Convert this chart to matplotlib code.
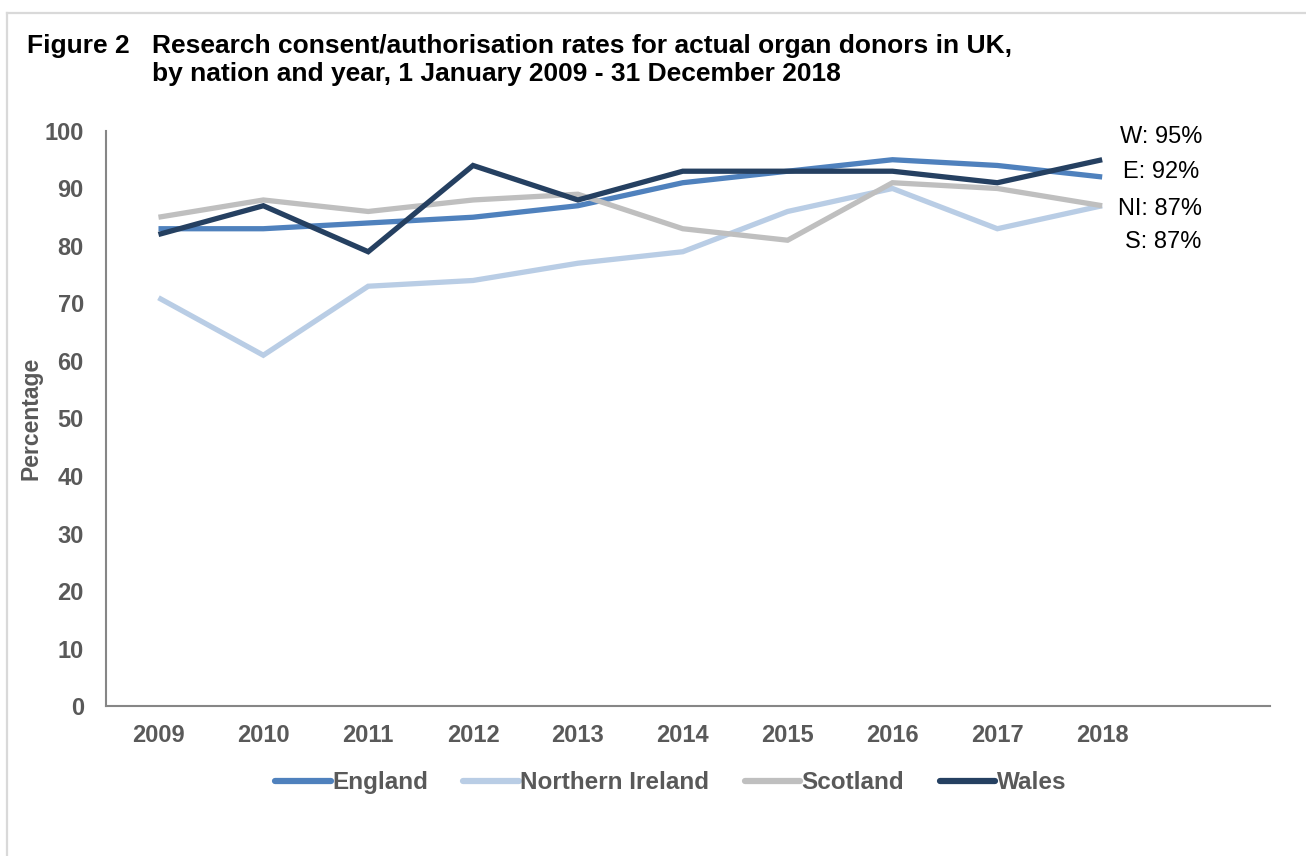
import matplotlib
matplotlib.use("Agg")
import matplotlib.pyplot as plt
from matplotlib.lines import Line2D

plt.rcParams["font.family"] = ["Liberation Sans", "DejaVu Sans"]

# --- data: consent/authorisation rate (%) by nation and year ---
years = ["2009", "2010", "2011", "2012", "2013", "2014", "2015", "2016", "2017", "2018"]
england = [83, 83, 84, 85, 87, 91, 93, 95, 94, 92]
northern_ireland = [71, 61, 73, 74, 77, 79, 86, 90, 83, 87]
scotland = [85, 88, 86, 88, 89, 83, 81, 91, 90, 87]
wales = [82, 87, 79, 94, 88, 93, 93, 93, 91, 95]

series = [
    ("England", england, "#4F81BD"),
    ("Northern Ireland", northern_ireland, "#B9CDE5"),
    ("Scotland", scotland, "#BFBFBF"),
    ("Wales", wales, "#254061"),
]

GREY_TEXT = "#595959"

fig = plt.figure(figsize=(13.06, 8.56), dpi=100)
ax = fig.add_axes([0.0812, 0.1752, 0.8912, 0.6718])

x = list(range(len(years)))
for name, vals, col in series:
    ax.plot(x, vals, color=col, lw=3.8, label=name, solid_capstyle="butt",
            solid_joinstyle="miter")

ax.set_xlim(-0.5, 10.6)
ax.set_ylim(0, 100)
ax.set_yticks(range(0, 101, 10))
ax.set_xticks(x)
ax.set_xticklabels(years)
ax.tick_params(length=0, labelsize=17, colors=GREY_TEXT)
ax.tick_params(axis="x", pad=13)
ax.tick_params(axis="y", pad=16)
for lab in ax.get_xticklabels() + ax.get_yticklabels():
    lab.set_fontweight("bold")

for side in ("top", "right"):
    ax.spines[side].set_visible(False)
for side in ("left", "bottom"):
    ax.spines[side].set_color("#868686")
    ax.spines[side].set_linewidth(1.5)

ax.set_ylabel("Percentage", fontsize=16.5, fontweight="bold", color=GREY_TEXT)
ax.yaxis.set_label_coords(-0.055, 0.5)

# end-of-line value labels
end_labels = [
    ("W", wales[-1], 137, 1161),
    ("E", england[-1], 172, 1161),
    ("NI", northern_ireland[-1], 209, 1160),
    ("S", scotland[-1], 242, 1163),
]
for i, (tag, val, py, px) in enumerate(end_labels):
    fig.text(px / 1306, 1 - py / 856, f"{tag}: {val}%", fontsize=17,
             ha="center", va="center", color="black", zorder=5 + i)

leg = ax.legend(loc="upper center", bbox_to_anchor=(0.485, -0.075), ncol=4,
                frameon=False, handlelength=2.3, handletextpad=0.05,
                columnspacing=1.45, fontsize=17.5)
for t in leg.get_texts():
    t.set_color(GREY_TEXT)
    t.set_fontweight("bold")
for h in leg.get_lines():
    h.set_linewidth(4.5)
    h.set_solid_capstyle("round")

# title block
fig.text(27 / 1306, 1 - 34 / 856, "Figure 2", fontsize=19, fontweight="bold",
         ha="left", va="top")
fig.text(152 / 1306, 1 - 34 / 856,
         "Research consent/authorisation rates for actual organ donors in UK,\n"
         "by nation and year, 1 January 2009 - 31 December 2018",
         fontsize=19, fontweight="bold", ha="left", va="top", linespacing=1.2)

# light frame around the figure
frame_col = "#D9D9D9"
fig.add_artist(Line2D([7 / 1306, 7 / 1306], [1 - 13 / 856, 0], color=frame_col,
                      lw=1.6, transform=fig.transFigure))
fig.add_artist(Line2D([7 / 1306, 1], [1 - 13 / 856, 1 - 13 / 856], color=frame_col,
                      lw=1.6, transform=fig.transFigure))

fig.savefig("out.png", dpi=100, facecolor="white")
